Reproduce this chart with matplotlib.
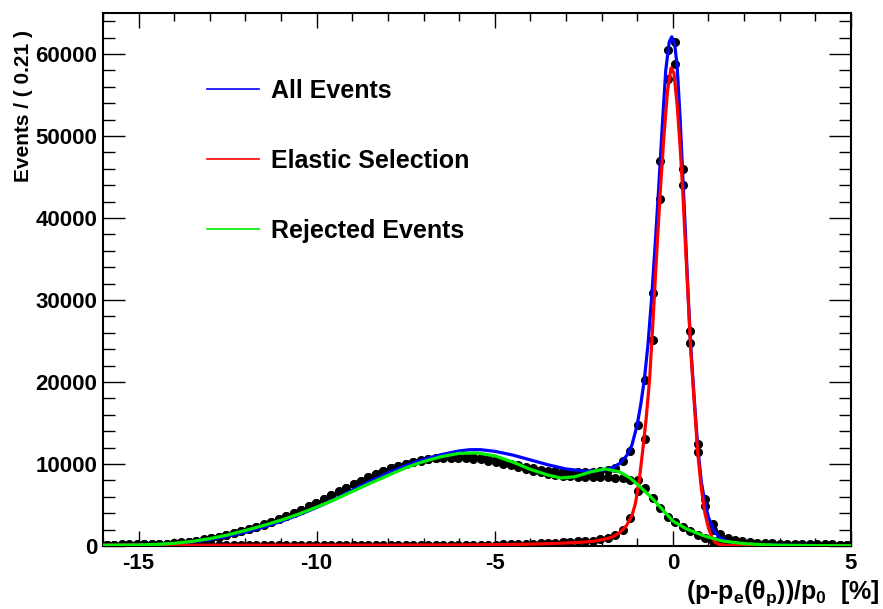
import numpy as np
import matplotlib.pyplot as plt
from matplotlib.lines import Line2D
from matplotlib.ticker import MultipleLocator

plt.rcParams['font.family'] = ['Liberation Sans', 'DejaVu Sans']
plt.rcParams['font.weight'] = 'bold'
plt.rcParams['axes.unicode_minus'] = False
plt.rcParams['mathtext.fontset'] = 'custom'
plt.rcParams['mathtext.rm'] = 'Liberation Sans:bold'
plt.rcParams['mathtext.it'] = 'Liberation Sans:bold'
plt.rcParams['mathtext.bf'] = 'Liberation Sans:bold'

# histogram binning: 100 bins of 0.21 from -16 to 5
bin_width = 0.21
n_bins = 100
x_lo = -16.0

# counts per bin
all_events = [
    180, 180, 190, 190, 200, 210, 230, 260, 300, 360,
    440, 540, 660, 800, 960, 1140, 1340, 1560, 1800, 2060,
    2340, 2640, 2960, 3300, 3660, 4040, 4440, 4860, 5300, 5750,
    6200, 6650, 7100, 7550, 7980, 8400, 8800, 9150, 9480, 9780,
    10040, 10260, 10450, 10600, 10720, 10810, 10870, 10890, 10870, 10810,
    10720, 10600, 10440, 10260, 10060, 9860, 9660, 9480, 9320, 9190,
    9090, 9020, 8980, 8970, 8990, 9030, 9100, 9230, 9500, 10400,
    11600, 14750, 20300, 30900, 46900, 60500, 61500, 46000, 26200, 12500,
    5700, 2650, 1460, 950, 700, 560, 470, 410, 360, 320,
    290, 270, 250, 230, 220, 210, 200, 190, 180, 180,
]
elastic = [
    120, 120, 120, 120, 120, 120, 120, 120, 120, 120,
    120, 120, 120, 120, 120, 120, 120, 120, 120, 120,
    120, 120, 120, 120, 120, 120, 120, 120, 120, 120,
    120, 120, 120, 120, 120, 120, 120, 120, 120, 120,
    120, 120, 120, 120, 120, 130, 130, 140, 140, 150,
    160, 170, 180, 200, 210, 230, 250, 280, 310, 350,
    400, 450, 500, 560, 600, 650, 800, 1000, 1300, 2000,
    3450, 6700, 13100, 25100, 42300, 57000, 58800, 44000, 24800, 11500,
    4900, 2000, 900, 450, 300, 220, 180, 160, 150, 140,
    130, 130, 120, 120, 120, 110, 110, 110, 100, 100,
]
rejected = [
    160, 160, 170, 170, 180, 190, 210, 240, 280, 340,
    420, 520, 640, 780, 940, 1120, 1320, 1540, 1780, 2040,
    2320, 2620, 2940, 3280, 3640, 4020, 4420, 4840, 5280, 5730,
    6180, 6630, 7080, 7530, 7960, 8380, 8780, 9130, 9460, 9760,
    10020, 10240, 10430, 10580, 10700, 10680, 10740, 10750, 10730, 10660,
    10560, 10430, 10260, 10060, 9850, 9630, 9410, 9200, 9000, 8830,
    8690, 8560, 8480, 8440, 8420, 8410, 8400, 8380, 8350, 8250,
    8100, 8000, 7100, 5900, 4670, 3600, 2900, 2300, 1800, 1350,
    950, 650, 460, 340, 260, 210, 180, 160, 150, 140,
    130, 120, 110, 100, 100, 90, 90, 80, 80, 80,
]

# fitted curves
blue_x = [-16, -15, -14.5, -14, -13.5, -13, -12.5, -12, -11.5, -11, -10.5, -10,
          -9.5, -9, -8.5, -8, -7.5, -7, -6.5, -6, -5.7, -5.4, -5, -4.5, -4,
          -3.5, -3, -2.5, -2.2, -1.9, -1.7, -1.5, -1.3, -1.15, -1.0, -0.9,
          -0.8, -0.7, -0.6, -0.5, -0.4, -0.3, -0.2, -0.1, -0.03, 0.05, 0.12,
          0.2, 0.275, 0.35, 0.42, 0.5, 0.6, 0.7, 0.8, 0.9, 1.0, 1.15, 1.3,
          1.45, 1.7, 2.0, 2.5, 3, 4, 5]
blue_y = [80, 120, 180, 300, 500, 800, 1200, 1700, 2300, 3000, 3800, 4700,
          5700, 6800, 7900, 8900, 9800, 10550, 11150, 11600, 11750, 11750, 11550,
          11100, 10500, 9900, 9400, 9150, 9150, 9300, 9550, 10050, 11000, 12300,
          14800, 17300, 20300, 24500, 30000, 36500, 43500, 51000, 58000, 61500,
          62100, 61300, 58500, 52500, 45500, 38500, 31500, 24500, 18000, 12000,
          7800, 5300, 3500, 1900, 1100, 700, 400, 250, 150, 100, 60, 40]

red_x = [-16, -12, -8, -6, -5, -4, -3.5, -3, -2.5, -2.2, -1.9, -1.7, -1.5,
         -1.3, -1.15, -1.05, -0.95, -0.85, -0.75, -0.65, -0.55, -0.45, -0.35,
         -0.25, -0.15, -0.05, 0.03, 0.12, 0.2, 0.275, 0.35, 0.42, 0.5, 0.6,
         0.7, 0.8, 0.9, 1.0, 1.1, 1.2, 1.3, 1.5, 2, 5]
red_y = [100, 100, 110, 130, 160, 230, 290, 370, 480, 600, 850, 1100, 1600,
         2500, 3700, 5200, 7800, 11500, 15500, 20500, 28000, 36000, 43500,
         50000, 55500, 58300, 57700, 53800, 49000, 43500, 37000, 31000, 24000,
         17500, 11300, 7000, 4000, 2200, 1000, 400, 200, 80, 60, 40]

green_x = [-16, -15, -14.5, -14, -13.5, -13, -12.5, -12, -11.5, -11, -10.5,
           -10, -9.5, -9, -8.5, -8, -7.5, -7, -6.5, -6, -5.5, -5, -4.5, -4,
           -3.5, -3.15, -2.75, -2.3, -1.9, -1.5, -1.2, -0.9, -0.6, -0.3, 0,
           0.4, 0.9, 1.4, 2, 2.5, 3, 4, 5]
green_y = [100, 130, 200, 330, 560, 900, 1350, 1900, 2500, 3150, 3900, 4750,
           5650, 6650, 7650, 8600, 9550, 10300, 10900, 11300, 11350, 11000,
           10250, 9350, 8650, 8300, 8450, 9050, 9400, 9050, 8300, 7150, 5900,
           4500, 3050, 2050, 1200, 600, 300, 170, 100, 50, 30]

legend_labels = ['All Events', 'Elastic Selection', 'Rejected Events']

centers = x_lo + bin_width * (np.arange(n_bins) + 0.5)

fig = plt.figure(figsize=(8.83, 6.09), dpi=100)
ax = fig.add_axes([0.1166, 0.1034, 0.8471, 0.8752])

def draw_data(counts):
    counts = np.array(counts, dtype=float)
    ax.errorbar(centers, counts, xerr=bin_width / 2, yerr=np.sqrt(counts),
                fmt='o', color='black', ms=5.5, lw=1.6, capsize=0, zorder=3)

draw_data(all_events)
ax.plot(blue_x, blue_y, color='#0000ff', lw=2.3, zorder=4)
draw_data(elastic)
ax.plot(red_x, red_y, color='#ff0000', lw=2.3, zorder=5)
draw_data(rejected)
ax.plot(green_x, green_y, color='#00ee00', lw=2.3, zorder=6)

ax.set_xlim(-16, 5)
ax.set_ylim(0, 65000)

ax.xaxis.set_major_locator(MultipleLocator(5))
ax.xaxis.set_minor_locator(MultipleLocator(1))
ax.yaxis.set_major_locator(MultipleLocator(10000))
ax.yaxis.set_minor_locator(MultipleLocator(2000))
ax.ticklabel_format(axis='y', style='plain')

ax.tick_params(which='both', direction='in', top=True, right=True,
               width=1.0, labelsize=16)
ax.tick_params(axis='x', which='major', length=11, pad=5)
ax.tick_params(axis='x', which='minor', length=5.5)
ax.tick_params(axis='y', which='major', length=16, pad=4)
ax.tick_params(axis='y', which='minor', length=8.5)
for lab in ax.get_xticklabels() + ax.get_yticklabels():
    lab.set_fontweight('bold')
for sp in ax.spines.values():
    sp.set_linewidth(1.5)

# legend
handles = [Line2D([], [], color=c, lw=1.2) for c in ['#0000ff', '#ff0000', '#00ee00']]
ax.legend(handles, legend_labels, loc='upper left', bbox_to_anchor=(0.139, 0.877),
          frameon=False, handlelength=2.1, handletextpad=0.45,
          labelspacing=1.85, borderpad=0, borderaxespad=0,
          prop={'weight': 'bold', 'size': 18})

fig.text(24 / 883, 1 - 106 / 609, 'Events / ( 0.21 )', rotation=90,
         ha='center', va='center', fontsize=15, fontweight='bold')
fig.text(879 / 883, 1 - 599 / 609, r'$(p$-$p_{e}(\theta_{p}))/p_{0}$  [%]',
         ha='right', va='baseline', fontsize=18, fontweight='bold')

fig.savefig('out.png', dpi=100)
